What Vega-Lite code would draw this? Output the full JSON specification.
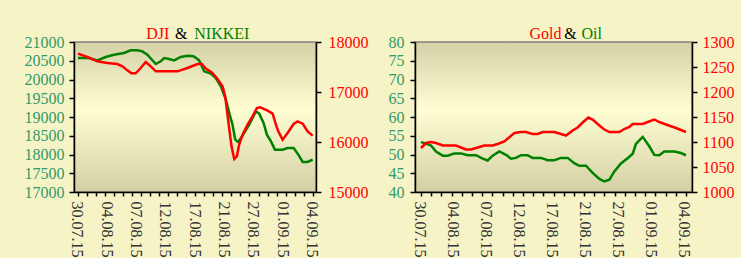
{
  "$schema": "https://vega.github.io/schema/vega-lite/v6.json",
  "background": "#F6F4C6",
  "padding": {"left": 23, "top": 25, "right": 10, "bottom": 0},
  "spacing": 18,
  "config": {
    "axis": {"grid": false, "title": null, "labelFont": "Liberation Serif", "labelFontSize": 16, "labelOverlap": false, "labelFlush": false, "tickColor": "#000000", "tickWidth": 1.5, "domainColor": "#000000", "domainWidth": 1.5}
  },
  "datasets": {
    "nikkei": [
      {"day": 0, "price": 20573}, {"day": 1.22, "price": 20573}, {"day": 2.14, "price": 20511}, {"day": 3.07, "price": 20600},
      {"day": 3.99, "price": 20662}, {"day": 5.1, "price": 20707}, {"day": 5.84, "price": 20778}, {"day": 6.58, "price": 20778},
      {"day": 7.14, "price": 20751}, {"day": 7.69, "price": 20662}, {"day": 8.62, "price": 20413}, {"day": 9.17, "price": 20484},
      {"day": 9.54, "price": 20573}, {"day": 10.1, "price": 20547}, {"day": 10.65, "price": 20511}, {"day": 11.39, "price": 20600},
      {"day": 12.13, "price": 20636}, {"day": 12.8, "price": 20618}, {"day": 13.42, "price": 20511}, {"day": 13.98, "price": 20218},
      {"day": 14.72, "price": 20156}, {"day": 15.27, "price": 20040}, {"day": 15.83, "price": 19818}, {"day": 16.38, "price": 19462},
      {"day": 16.86, "price": 19018}, {"day": 17.12, "price": 18796}, {"day": 17.42, "price": 18396}, {"day": 17.75, "price": 18333},
      {"day": 18.23, "price": 18502}, {"day": 18.97, "price": 18796}, {"day": 19.71, "price": 19151}, {"day": 20.08, "price": 19089},
      {"day": 20.56, "price": 18840}, {"day": 20.93, "price": 18529}, {"day": 21.38, "price": 18351}, {"day": 21.82, "price": 18129},
      {"day": 22.67, "price": 18129}, {"day": 23.22, "price": 18173}, {"day": 23.89, "price": 18173}, {"day": 24.41, "price": 17996},
      {"day": 24.89, "price": 17800}, {"day": 25.44, "price": 17800}, {"day": 26, "price": 17862}
    ],
    "dji": [
      {"day": 0, "price": 17767}, {"day": 1.04, "price": 17700}, {"day": 2.14, "price": 17613}, {"day": 3.25, "price": 17580},
      {"day": 4.36, "price": 17560}, {"day": 4.92, "price": 17513}, {"day": 5.47, "price": 17433}, {"day": 5.92, "price": 17373},
      {"day": 6.4, "price": 17373}, {"day": 6.95, "price": 17480}, {"day": 7.51, "price": 17600}, {"day": 8.06, "price": 17513},
      {"day": 8.62, "price": 17413}, {"day": 11.02, "price": 17413}, {"day": 12.13, "price": 17480}, {"day": 13.24, "price": 17560},
      {"day": 13.72, "price": 17560}, {"day": 14.16, "price": 17467}, {"day": 14.9, "price": 17380}, {"day": 15.46, "price": 17260},
      {"day": 16.01, "price": 17113}, {"day": 16.31, "price": 16913}, {"day": 16.68, "price": 16380}, {"day": 17.01, "price": 15913},
      {"day": 17.31, "price": 15660}, {"day": 17.6, "price": 15713}, {"day": 17.86, "price": 15947}, {"day": 18.23, "price": 16147},
      {"day": 18.79, "price": 16347}, {"day": 19.34, "price": 16513}, {"day": 19.82, "price": 16680}, {"day": 20.19, "price": 16693},
      {"day": 21.01, "price": 16627}, {"day": 21.56, "price": 16567}, {"day": 21.93, "price": 16347}, {"day": 22.19, "price": 16213},
      {"day": 22.67, "price": 16047}, {"day": 23.22, "price": 16180}, {"day": 23.89, "price": 16360}, {"day": 24.33, "price": 16413},
      {"day": 24.89, "price": 16367}, {"day": 25.44, "price": 16213}, {"day": 26, "price": 16127}
    ],
    "gold": [
      {"day": 0, "price": 1088}, {"day": 0.49, "price": 1098}, {"day": 0.98, "price": 1100}, {"day": 1.47, "price": 1098},
      {"day": 2.13, "price": 1093}, {"day": 2.94, "price": 1093}, {"day": 3.43, "price": 1093}, {"day": 4.41, "price": 1085},
      {"day": 4.91, "price": 1085}, {"day": 5.56, "price": 1089}, {"day": 6.21, "price": 1093}, {"day": 7.03, "price": 1093},
      {"day": 7.52, "price": 1096}, {"day": 8.18, "price": 1101}, {"day": 9.16, "price": 1118}, {"day": 9.81, "price": 1120},
      {"day": 10.3, "price": 1120}, {"day": 10.95, "price": 1116}, {"day": 11.45, "price": 1116}, {"day": 11.94, "price": 1120},
      {"day": 13.08, "price": 1120}, {"day": 13.73, "price": 1116}, {"day": 14.23, "price": 1113}, {"day": 14.88, "price": 1123},
      {"day": 15.37, "price": 1129}, {"day": 15.86, "price": 1139}, {"day": 16.42, "price": 1149}, {"day": 16.84, "price": 1145},
      {"day": 17.5, "price": 1133}, {"day": 17.99, "price": 1125}, {"day": 18.48, "price": 1120}, {"day": 19.46, "price": 1120},
      {"day": 19.95, "price": 1126}, {"day": 20.44, "price": 1130}, {"day": 20.77, "price": 1136}, {"day": 21.75, "price": 1136},
      {"day": 22.24, "price": 1140}, {"day": 22.89, "price": 1145}, {"day": 23.38, "price": 1140}, {"day": 24.04, "price": 1135},
      {"day": 25.02, "price": 1128}, {"day": 26, "price": 1120}
    ],
    "oil": [
      {"day": 0, "price": 53.3}, {"day": 0.49, "price": 52.9}, {"day": 0.98, "price": 52.4}, {"day": 1.47, "price": 50.8},
      {"day": 2.13, "price": 49.7}, {"day": 2.62, "price": 49.7}, {"day": 3.27, "price": 50.3}, {"day": 3.92, "price": 50.3},
      {"day": 4.58, "price": 49.8}, {"day": 5.4, "price": 49.8}, {"day": 6.05, "price": 48.9}, {"day": 6.54, "price": 48.4},
      {"day": 7.03, "price": 49.7}, {"day": 7.68, "price": 50.8}, {"day": 8.34, "price": 49.9}, {"day": 8.83, "price": 48.9},
      {"day": 9.32, "price": 49.1}, {"day": 9.81, "price": 49.8}, {"day": 10.46, "price": 49.8}, {"day": 10.95, "price": 49.1},
      {"day": 11.77, "price": 49.1}, {"day": 12.43, "price": 48.5}, {"day": 13.08, "price": 48.5}, {"day": 13.73, "price": 49.1},
      {"day": 14.39, "price": 49.1}, {"day": 15.04, "price": 47.7}, {"day": 15.53, "price": 47.0}, {"day": 16.19, "price": 47.0},
      {"day": 16.84, "price": 45.1}, {"day": 17.5, "price": 43.5}, {"day": 17.99, "price": 42.8}, {"day": 18.48, "price": 43.3},
      {"day": 18.97, "price": 45.5}, {"day": 19.62, "price": 47.6}, {"day": 20.27, "price": 49.0}, {"day": 20.77, "price": 50.2},
      {"day": 21.09, "price": 52.8}, {"day": 21.75, "price": 54.7}, {"day": 22.4, "price": 52.2}, {"day": 22.89, "price": 49.9},
      {"day": 23.38, "price": 49.8}, {"day": 23.87, "price": 50.8}, {"day": 24.85, "price": 50.8}, {"day": 25.51, "price": 50.4},
      {"day": 26, "price": 49.8}
    ]
  },
  "hconcat": [
    {
      "width": 242,
      "height": 150,
      "view": {"stroke": "#808080", "strokeWidth": 1.5, "fill": {"gradient": "linear", "x1": 0, "y1": 0, "x2": 0, "y2": 1, "stops": [{"offset": 0, "color": "#D4D1A6"}, {"offset": 0.45, "color": "#FFFED3"}, {"offset": 1, "color": "#D2CFA3"}]}},
      "resolve": {"scale": {"y": "independent"}, "axis": {"x": "independent", "y": "independent"}},
      "layer": [
        {
          "data": {"name": "nikkei"},
          "mark": {"type": "line", "color": "#008000", "strokeWidth": 2.5},
          "encoding": {
            "x": {"field": "day", "type": "quantitative", "scale": {"domain": [-0.44, 26.37], "nice": false, "zero": false},
              "axis": {"orient": "bottom", "values": [0, 3.25, 6.5, 9.75, 13, 16.25, 19.5, 22.75, 26], "labelExpr": "['30.07.15','04.08.15','07.08.15','12.08.15','17.08.15','21.08.15','27.08.15','01.09.15','04.09.15'][round(datum.value/3.25)]", "labelAngle": 90, "labelOverlap": false, "labelFlush": false, "ticks": false, "tickSize": 0, "domain": false, "labelColor": "#333333", "labelPadding": 9, "labelOffset": -1}},
            "y": {"field": "price", "type": "quantitative", "scale": {"domain": [17000, 21000], "nice": false, "zero": false},
              "axis": {"orient": "left", "values": [17000, 17500, 18000, 18500, 19000, 19500, 20000, 20500, 21000], "format": "d", "labelOverlap": false, "labelFlush": false, "labelColor": "#339966", "labelPadding": 5, "tickSize": 5}}
          }
        },
        {
          "data": {"name": "dji"},
          "mark": {"type": "line", "color": "#FF0000", "strokeWidth": 2.5},
          "encoding": {
            "x": {"field": "day", "type": "quantitative", "scale": {"domain": [-0.44, 26.37], "nice": false, "zero": false},
              "axis": {"orient": "bottom", "values": [0, 1, 2, 3, 4, 5, 6, 7, 8, 9, 10, 11, 12, 13, 14, 15, 16, 17, 18, 19, 20, 21, 22, 23, 24, 25, 26], "labels": false, "ticks": true, "tickSize": 4}},
            "y": {"field": "price", "type": "quantitative", "scale": {"domain": [15000, 18000], "nice": false, "zero": false},
              "axis": {"orient": "right", "values": [15000, 16000, 17000, 18000], "format": "d", "labelOverlap": false, "labelFlush": false, "labelColor": "#FF0000", "labelPadding": 7, "tickSize": 5}}
          }
        },
        {
          "data": {"values": [{}]},
          "mark": {"type": "text", "text": "DJI", "color": "#FF0000", "align": "right", "baseline": "alphabetic", "dx": -26, "dy": -3, "font": "Liberation Serif", "fontSize": 16},
          "encoding": {"x": {"datum": 13, "axis": null}, "y": {"datum": 1, "scale": {"domain": [0, 1]}, "axis": null}}
        },
        {
          "data": {"values": [{}]},
          "mark": {"type": "text", "text": "&", "color": "#000000", "align": "center", "baseline": "alphabetic", "dx": -14, "dy": -3, "font": "Liberation Serif", "fontSize": 16},
          "encoding": {"x": {"datum": 13, "axis": null}, "y": {"datum": 1, "scale": {"domain": [0, 1]}, "axis": null}}
        },
        {
          "data": {"values": [{}]},
          "mark": {"type": "text", "text": "NIKKEI", "color": "#008000", "align": "left", "baseline": "alphabetic", "dx": -1, "dy": -3, "font": "Liberation Serif", "fontSize": 16},
          "encoding": {"x": {"datum": 13, "axis": null}, "y": {"datum": 1, "scale": {"domain": [0, 1]}, "axis": null}}
        }
      ]
    },
    {
      "width": 277,
      "height": 150,
      "view": {"stroke": "#808080", "strokeWidth": 1.5, "fill": {"gradient": "linear", "x1": 0, "y1": 0, "x2": 0, "y2": 1, "stops": [{"offset": 0, "color": "#D4D1A6"}, {"offset": 0.45, "color": "#FFFED3"}, {"offset": 1, "color": "#D2CFA3"}]}},
      "resolve": {"scale": {"y": "independent"}, "axis": {"x": "independent", "y": "independent"}},
      "layer": [
        {
          "data": {"name": "oil"},
          "mark": {"type": "line", "color": "#008000", "strokeWidth": 2.5},
          "encoding": {
            "x": {"field": "day", "type": "quantitative", "scale": {"domain": [-0.59, 26.59], "nice": false, "zero": false},
              "axis": {"orient": "bottom", "values": [0, 3.25, 6.5, 9.75, 13, 16.25, 19.5, 22.75, 26], "labelExpr": "['30.07.15','04.08.15','07.08.15','12.08.15','17.08.15','21.08.15','27.08.15','01.09.15','04.09.15'][round(datum.value/3.25)]", "labelAngle": 90, "labelOverlap": false, "labelFlush": false, "ticks": false, "tickSize": 0, "domain": false, "labelColor": "#333333", "labelPadding": 9, "labelOffset": -2}},
            "y": {"field": "price", "type": "quantitative", "scale": {"domain": [40, 80], "nice": false, "zero": false},
              "axis": {"orient": "left", "values": [40, 45, 50, 55, 60, 65, 70, 75, 80], "format": "d", "labelOverlap": false, "labelFlush": false, "labelColor": "#339966", "labelPadding": 6, "tickSize": 5}}
          }
        },
        {
          "data": {"name": "gold"},
          "mark": {"type": "line", "color": "#FF0000", "strokeWidth": 2.5},
          "encoding": {
            "x": {"field": "day", "type": "quantitative", "scale": {"domain": [-0.59, 26.59], "nice": false, "zero": false},
              "axis": {"orient": "bottom", "values": [0, 1, 2, 3, 4, 5, 6, 7, 8, 9, 10, 11, 12, 13, 14, 15, 16, 17, 18, 19, 20, 21, 22, 23, 24, 25, 26], "labels": false, "ticks": true, "tickSize": 4}},
            "y": {"field": "price", "type": "quantitative", "scale": {"domain": [1000, 1300], "nice": false, "zero": false},
              "axis": {"orient": "right", "values": [1000, 1050, 1100, 1150, 1200, 1250, 1300], "format": "d", "labelOverlap": false, "labelFlush": false, "labelColor": "#FF0000", "labelPadding": 5, "tickSize": 5}}
          }
        },
        {
          "data": {"values": [{}]},
          "mark": {"type": "text", "text": "Gold", "color": "#FF0000", "align": "right", "baseline": "alphabetic", "dx": 8, "dy": -3, "font": "Liberation Serif", "fontSize": 16},
          "encoding": {"x": {"datum": 13, "axis": null}, "y": {"datum": 1, "scale": {"domain": [0, 1]}, "axis": null}}
        },
        {
          "data": {"values": [{}]},
          "mark": {"type": "text", "text": "&", "color": "#000000", "align": "center", "baseline": "alphabetic", "dx": 17, "dy": -3, "font": "Liberation Serif", "fontSize": 16},
          "encoding": {"x": {"datum": 13, "axis": null}, "y": {"datum": 1, "scale": {"domain": [0, 1]}, "axis": null}}
        },
        {
          "data": {"values": [{}]},
          "mark": {"type": "text", "text": "Oil", "color": "#008000", "align": "left", "baseline": "alphabetic", "dx": 28, "dy": -3, "font": "Liberation Serif", "fontSize": 16},
          "encoding": {"x": {"datum": 13, "axis": null}, "y": {"datum": 1, "scale": {"domain": [0, 1]}, "axis": null}}
        }
      ]
    }
  ]
}
